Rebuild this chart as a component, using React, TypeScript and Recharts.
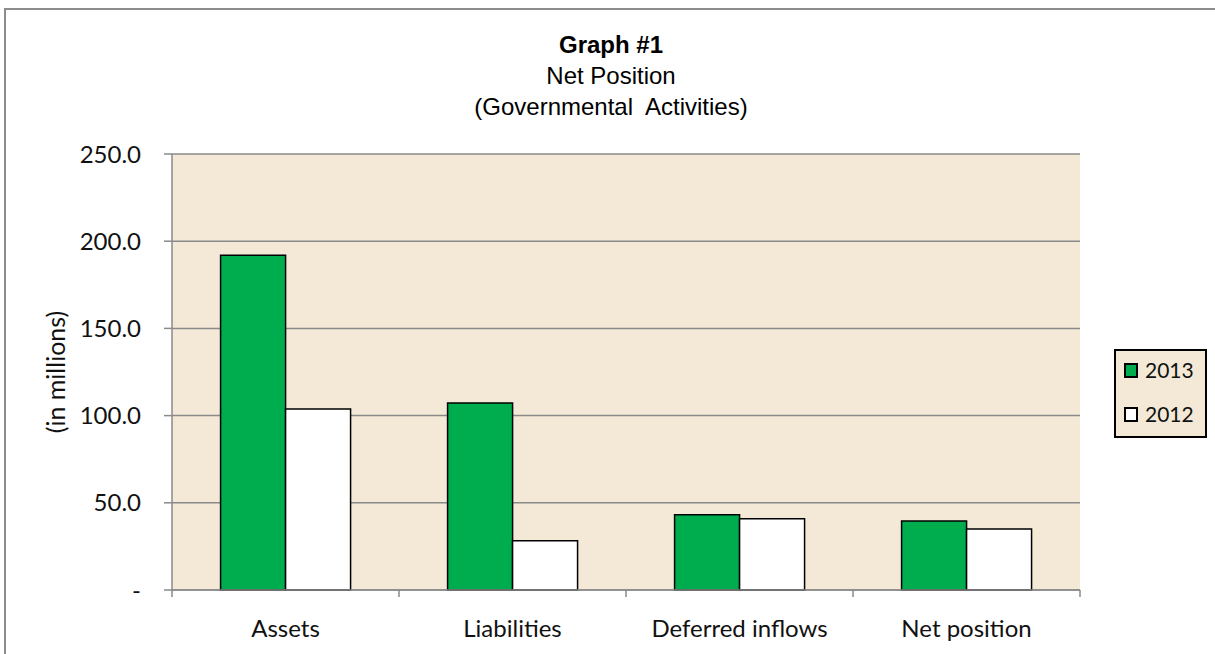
import { Bar, BarChart, CartesianGrid, Legend, XAxis, YAxis } from "recharts";

const categories = ["Assets", "Liabilities", "Deferred inflows", "Net position"];
const values2013 = [192.0, 107.2, 43.2, 39.6];
const values2012 = [103.8, 28.2, 40.8, 35.0];
const seriesNames = ["2013", "2012"];
const yTicks = [0, 50, 100, 150, 200, 250];
const titleLines = ["Net Position", "(Governmental  Activities)"];

const data = categories.map((name, i) => ({ name, y2013: values2013[i], y2012: values2012[i] }));

const bodyFont = "Lato, 'Open Sans', sans-serif";
const titleFont = "'Liberation Sans', Arial, sans-serif";
const gridGray = "#8a8a8a";
const beige = "#f3e9d6";

function XTick(props: any) {
  const { x, y, payload, index, visibleTicksCount } = props;
  const half = payload?.offset ?? 113.5;
  const last = index === (visibleTicksCount ?? categories.length) - 1;
  return (
    <g>
      <line x1={x - half} x2={x - half} y1={y} y2={y + 7} stroke={gridGray} strokeWidth={1.5} />
      {last && <line x1={x + half} x2={x + half} y1={y} y2={y + 7} stroke={gridGray} strokeWidth={1.5} />}
      <text x={x} y={y + 37} textAnchor="middle" dominantBaseline="central" fontFamily={bodyFont} fontSize={24} fill="#111">
        {payload.value}
      </text>
    </g>
  );
}

function YLabel() {
  return (
    <text x={55} y={372} transform="rotate(-90 55 372)" textAnchor="middle" dominantBaseline="central" fontFamily={bodyFont} fontSize={25} fill="#111">
      (in millions)
    </text>
  );
}

function LegendBox(props: any) {
  const items = [...(props.payload ?? [])].sort(
    (a: any, b: any) => seriesNames.indexOf(String(a.value)) - seriesNames.indexOf(String(b.value))
  );
  return (
    <div
      style={{
        boxSizing: "border-box",
        width: 93,
        height: 89,
        border: "2px solid #000",
        background: beige,
        position: "relative",
        fontFamily: bodyFont,
        fontSize: 21,
      }}
    >
      {items.map((item: any, i: number) => (
        <div key={item.value} style={{ position: "absolute", left: 8, top: 9 + i * 44, height: 20, display: "flex", alignItems: "center" }}>
          <span
            style={{
              display: "inline-block",
              boxSizing: "border-box",
              width: 14,
              height: 15,
              background: item.payload?.fill ?? item.color,
              border: "2px solid #000",
            }}
          />
          <span style={{ marginLeft: 7, color: "#111", lineHeight: "20px" }}>{item.value}</span>
        </div>
      ))}
    </div>
  );
}

export default function App() {
  return (
    <div style={{ position: "absolute", left: 0, top: 0, width: 1215, height: 654, background: "#fff", overflow: "hidden" }}>
      <div style={{ position: "absolute", left: 4, top: 8, width: 1240, height: 700, border: "2px solid #8c8c8c", boxSizing: "border-box" }} />
      <div style={{ position: "absolute", left: 311, width: 600, top: 29, textAlign: "center", fontFamily: titleFont, fontSize: 24, lineHeight: "31px", color: "#000" }}>
        <div style={{ fontWeight: "bold" }}>Graph #1</div>
        {titleLines.map((t) => (
          <div key={t} style={{ whiteSpace: "pre" }}>{t}</div>
        ))}
      </div>
      <div style={{ position: "absolute", left: 0, top: 0 }}>
        <BarChart
          width={1215}
          height={654}
          data={data}
          margin={{ top: 154, right: 135, left: 0, bottom: 0 }}
          barCategoryGap="21.4%"
          barGap={0}
        >
          <CartesianGrid vertical={false} stroke={gridGray} strokeWidth={1.5} fill={beige} />
          <XAxis
            dataKey="name"
            height={64}
            axisLine={{ stroke: gridGray, strokeWidth: 1.5 }}
            tickLine={false}
            tickSize={0}
            tickMargin={0}
            interval={0}
            tick={<XTick />}
          />
          <YAxis
            width={172}
            domain={[0, 250]}
            ticks={yTicks}
            interval={0}
            axisLine={{ stroke: gridGray, strokeWidth: 1.5 }}
            tickLine={{ stroke: gridGray, strokeWidth: 1.5 }}
            tickSize={8}
            tickMargin={23}
            tick={{ fontFamily: bodyFont, fontSize: 24, fill: "#111" }}
            tickFormatter={(v: number) => (v === 0 ? "-" : v.toFixed(1))}
            label={<YLabel />}
          />
          <Legend
            layout="horizontal"
            align="center"
            verticalAlign="middle"
            width={93}
            height={89}
            wrapperStyle={{ left: 1114, top: 349 }}
            content={<LegendBox />}
          />
          <Bar dataKey="y2013" name={seriesNames[0]} fill="#00ad4e" stroke="#000" strokeWidth={1.5} isAnimationActive={false} />
          <Bar dataKey="y2012" name={seriesNames[1]} fill="#ffffff" stroke="#000" strokeWidth={1.5} isAnimationActive={false} />
        </BarChart>
      </div>
    </div>
  );
}
